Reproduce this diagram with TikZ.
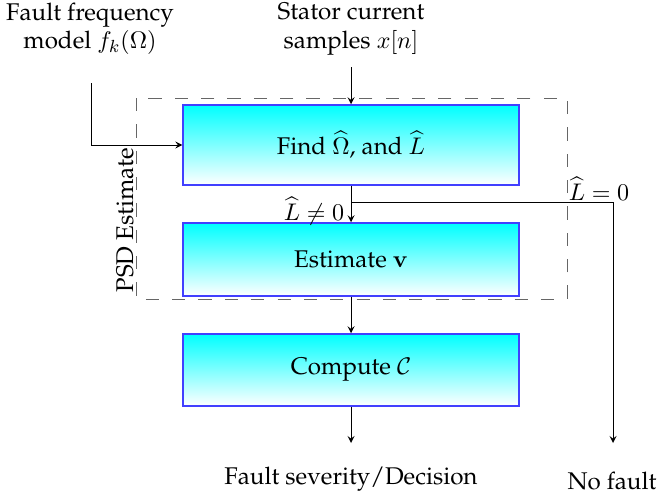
\documentclass[tikz,border=0pt]{standalone}
\usepackage[T1]{fontenc}
\usepackage{palatino}
\usepackage{amssymb}
\usepackage{amsmath}
\usetikzlibrary{calc}

\begin{document}
\begin{tikzpicture}[x=0.016cm, y=-0.016cm, >=stealth, font=\fontsize{11}{12.8}\selectfont,
  block/.style={draw=blue!75, line width=0.7pt, top color=cyan, bottom color=white, minimum width=5.376cm, inner sep=0pt},
  txt/.style={align=center, inner sep=0pt}]

\useasboundingbox (0,0) rectangle (660,498);

% dashed frame of the PSD part
\draw[black!60, dash pattern=on 6pt off 6pt] (136,98) rectangle (567,299);
\node[rotate=90, inner sep=0pt] (psd) at (125,220) {PSD Estimate};

\node[block, minimum height=1.28cm] (find) at (351,145) {Find $\widehat{\Omega}$, and $\widehat{L}$};
\node[block, minimum height=1.168cm] (est) at (351,259.5) {Estimate $\mathbf{v}$};
\node[block, minimum height=1.152cm] (comp) at (351,370) {Compute $\mathcal{C}$};

\node[txt] (freq) at (90,29) {Fault frequency\\model $f_k(\Omega)$};
\node[txt] (stator) at (351,29) {Stator current\\samples $x[n]$};
\node[txt] (sev) at (351,479) {Fault severity/Decision};
\node[txt] (nofault) at (612,481) {No fault};
\node[txt] (lzero) at (599,189) {$\widehat{L}=0$};
\node[txt] (lnonzero) at (314,211) {$\widehat{L}\neq 0$};

\coordinate (in1) at (91,83);
\coordinate (in2) at (351,67);
\coordinate (split) at (351,202);
\coordinate (out1) at (351,443);
\coordinate (out2) at (613,443);

\draw[->] (in1) |- (find);
\draw[->] (in2) -- (find);
\draw[->] (find) -- (est);
\draw[->] (split) -| (out2);
\draw[->] (est) -- (comp);
\draw[->] (comp) -- (out1);
\end{tikzpicture}
\end{document}
